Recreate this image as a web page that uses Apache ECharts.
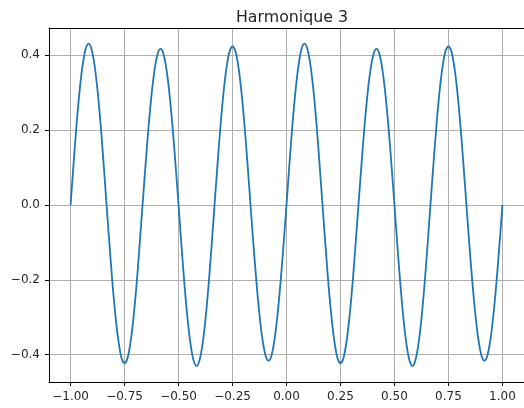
<!DOCTYPE html>
<html>
<head>
<meta charset="utf-8">
<script src="https://cdn.jsdelivr.net/npm/echarts@6/dist/echarts.min.js"></script>
<style>
  html, body { margin: 0; padding: 0; background: #fff; }
  #chart { width: 524px; height: 408px; }
</style>
</head>
<body>
<div id="chart"></div>
<script>
// Sample positions on [-1, 1] (step 1/72) and the third harmonic's values there
const xs = [
  -1.0000, -0.9861, -0.9722, -0.9583, -0.9444, -0.9306, -0.9167, -0.9028, -0.8889, -0.8750, -0.8611, -0.8472,
  -0.8333, -0.8194, -0.8056, -0.7917, -0.7778, -0.7639, -0.7500, -0.7361, -0.7222, -0.7083, -0.6944, -0.6806,
  -0.6667, -0.6528, -0.6389, -0.6250, -0.6111, -0.5972, -0.5833, -0.5694, -0.5556, -0.5417, -0.5278, -0.5139,
  -0.5000, -0.4861, -0.4722, -0.4583, -0.4444, -0.4306, -0.4167, -0.4028, -0.3889, -0.3750, -0.3611, -0.3472,
  -0.3333, -0.3194, -0.3056, -0.2917, -0.2778, -0.2639, -0.2500, -0.2361, -0.2222, -0.2083, -0.1944, -0.1806,
  -0.1667, -0.1528, -0.1389, -0.1250, -0.1111, -0.0972, -0.0833, -0.0694, -0.0556, -0.0417, -0.0278, -0.0139,
   0.0000,  0.0139,  0.0278,  0.0417,  0.0556,  0.0694,  0.0833,  0.0972,  0.1111,  0.1250,  0.1389,  0.1528,
   0.1667,  0.1806,  0.1944,  0.2083,  0.2222,  0.2361,  0.2500,  0.2639,  0.2778,  0.2917,  0.3056,  0.3194,
   0.3333,  0.3472,  0.3611,  0.3750,  0.3889,  0.4028,  0.4167,  0.4306,  0.4444,  0.4583,  0.4722,  0.4861,
   0.5000,  0.5139,  0.5278,  0.5417,  0.5556,  0.5694,  0.5833,  0.5972,  0.6111,  0.6250,  0.6389,  0.6528,
   0.6667,  0.6806,  0.6944,  0.7083,  0.7222,  0.7361,  0.7500,  0.7639,  0.7778,  0.7917,  0.8056,  0.8194,
   0.8333,  0.8472,  0.8611,  0.8750,  0.8889,  0.9028,  0.9167,  0.9306,  0.9444,  0.9583,  0.9722,  0.9861,
   1.0000
];
const ys = [
   0.000,  0.112,  0.216,  0.305,  0.373,  0.416,  0.431,  0.416,  0.373,  0.305,  0.216,  0.112,
   0.000, -0.109, -0.212, -0.299, -0.366, -0.409, -0.423, -0.409, -0.366, -0.299, -0.212, -0.109,
   0.000,  0.108,  0.209,  0.295,  0.361,  0.403,  0.417,  0.403,  0.361,  0.295,  0.209,  0.108,
   0.000, -0.111, -0.215, -0.304, -0.372, -0.415, -0.430, -0.415, -0.372, -0.304, -0.215, -0.111,
   0.000,  0.110,  0.212,  0.300,  0.367,  0.410,  0.424,  0.410,  0.367,  0.300,  0.212,  0.110,
   0.000, -0.108, -0.208, -0.294, -0.360, -0.402, -0.416, -0.402, -0.360, -0.294, -0.208, -0.108,
   0.000,  0.112,  0.216,  0.305,  0.373,  0.416,  0.431,  0.416,  0.373,  0.305,  0.216,  0.112,
   0.000, -0.109, -0.212, -0.299, -0.366, -0.409, -0.423, -0.409, -0.366, -0.299, -0.212, -0.109,
   0.000,  0.108,  0.209,  0.295,  0.361,  0.403,  0.417,  0.403,  0.361,  0.295,  0.209,  0.108,
   0.000, -0.111, -0.215, -0.304, -0.372, -0.415, -0.430, -0.415, -0.372, -0.304, -0.215, -0.111,
   0.000,  0.110,  0.212,  0.300,  0.367,  0.410,  0.424,  0.410,  0.367,  0.300,  0.212,  0.110,
   0.000, -0.108, -0.208, -0.294, -0.360, -0.402, -0.416, -0.402, -0.360, -0.294, -0.208, -0.108,
   0.000
];
const xTicks = [-1.0, -0.75, -0.5, -0.25, 0.0, 0.25, 0.5, 0.75, 1.0];
const yTicks = [-0.4, -0.2, 0.0, 0.2, 0.4];
const titleText = 'Harmonique 3';

const points = xs.map((x, i) => [x, ys[i]]);
const minus = s => s.replace('-', '\u2212');
const font = 'DejaVu Sans';
const X_MIN = -1.1, X_MAX = 1.1, Y_MIN = -0.473, Y_MAX = 0.473;

const chart = echarts.init(document.getElementById('chart'), null, { renderer: 'canvas' });
chart.setOption({
  animation: false,
  backgroundColor: '#ffffff',
  title: {
    text: titleText,
    left: 287, top: 5, textAlign: 'center',
    textStyle: { fontFamily: font, fontSize: 15.8, fontWeight: 'normal', color: '#262626' }
  },
  grid: { left: 49, top: 28, width: 476, height: 354 },
  xAxis: [{
    type: 'value', min: X_MIN, max: X_MAX,
    axisLine: { onZero: false, lineStyle: { color: '#000', width: 1 } },
    axisTick: { show: true, length: 4, customValues: xTicks, lineStyle: { color: '#000', width: 1 } },
    axisLabel: {
      customValues: xTicks, margin: 9,
      fontFamily: font, fontSize: 12, color: '#262626',
      formatter: v => minus(v.toFixed(2))
    },
    splitLine: { show: true, lineStyle: { color: '#b0b0b0', width: 1 } }
  }, {
    // top frame edge
    type: 'value', position: 'top', min: X_MIN, max: X_MAX,
    axisLine: { onZero: false, lineStyle: { color: '#000', width: 1 } },
    axisTick: { show: false }, axisLabel: { show: false }, splitLine: { show: false }
  }],
  yAxis: {
    type: 'value', min: Y_MIN, max: Y_MAX,
    axisLine: { onZero: false, lineStyle: { color: '#000', width: 1 } },
    axisTick: { show: true, length: 4, customValues: yTicks, lineStyle: { color: '#000', width: 1 } },
    axisLabel: {
      customValues: yTicks, margin: 9,
      fontFamily: font, fontSize: 12, color: '#262626',
      formatter: v => minus(v.toFixed(1))
    },
    splitLine: { show: true, lineStyle: { color: '#b0b0b0', width: 1 } }
  },
  series: [{
    type: 'line',
    xAxisIndex: 0,
    data: points,
    smooth: 0.3,
    showSymbol: false,
    lineStyle: { color: '#1f77b4', width: 1.8 },
    z: 3
  }]
});
</script>
</body>
</html>
